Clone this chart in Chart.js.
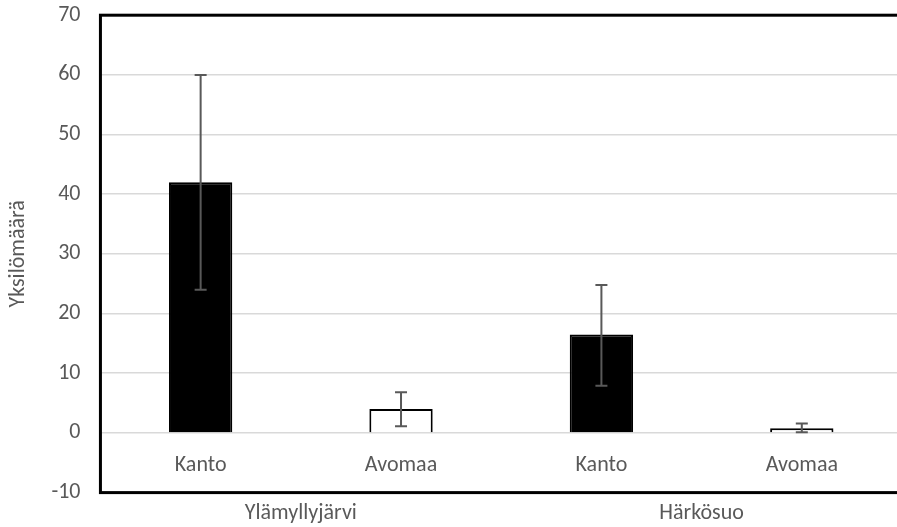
<!DOCTYPE html>
<html>
<head>
<meta charset="utf-8">
<script src="https://cdn.jsdelivr.net/npm/chart.js@4.4.1/dist/chart.umd.min.js"></script>
<style>
  html, body { margin: 0; padding: 0; background: #fff; overflow: hidden; }
  #wrap { width: 906px; height: 545px; margin-top: -18px; }
</style>
</head>
<body>
<div id="wrap"><canvas id="chart"></canvas></div>
<script>
const categories = ['Kanto', 'Avomaa', 'Kanto', 'Avomaa'];
const groups = ['Ylämyllyjärvi', 'Härkösuo'];
const counts = [42, 4, 16.5, 0.8];
const errLow = [24, 1.1, 7.9, 0.1];
const errHigh = [60, 6.8, 24.8, 1.6];
const barFills = ['#000000', '#ffffff', '#000000', '#ffffff'];

const textGray = '#595959';
const font = { family: 'Carlito, Calibri, Lato, sans-serif', size: 22 };

// whiskers for each bar
const errorBars = {
  id: 'errorBars',
  afterDatasetsDraw(chart) {
    const { ctx, scales: { y } } = chart;
    const meta = chart.getDatasetMeta(0);
    ctx.save();
    ctx.strokeStyle = textGray;
    ctx.lineWidth = 2;
    meta.data.forEach((bar, i) => {
      const x = bar.x;
      const top = y.getPixelForValue(errHigh[i]);
      const bot = y.getPixelForValue(errLow[i]);
      ctx.beginPath();
      ctx.moveTo(x, top); ctx.lineTo(x, bot);
      ctx.moveTo(x - 6, top); ctx.lineTo(x + 6, top);
      ctx.moveTo(x - 6, bot); ctx.lineTo(x + 6, bot);
      ctx.stroke();
    });
    ctx.restore();
  }
};

// heavy frame round the plot area
const frame = {
  id: 'frame',
  afterDraw(chart) {
    const { ctx, chartArea: a } = chart;
    ctx.save();
    ctx.strokeStyle = '#000';
    ctx.lineWidth = 3;
    ctx.strokeRect(a.left, a.top, a.right - a.left, a.bottom - a.top);
    ctx.restore();
  }
};

new Chart(document.getElementById('chart'), {
  type: 'bar',
  data: {
    labels: categories,
    datasets: [{
      data: counts,
      backgroundColor: barFills,
      borderColor: '#000',
      borderWidth: 2,
      barPercentage: 0.316,
      categoryPercentage: 1
    }]
  },
  options: {
    responsive: true,
    maintainAspectRatio: false,
    animation: false,
    layout: { padding: { top: 0, right: 4, left: 5, bottom: -8 } },
    plugins: { legend: { display: false }, tooltip: { enabled: false } },
    scales: {
      x: {
        position: { y: 0 },
        grid: { display: false },
        border: { display: false },
        ticks: { color: textGray, font, padding: 11 }
      },
      x2: {
        type: 'category',
        labels: groups,
        position: 'bottom',
        grid: { display: false, drawTicks: false },
        border: { display: false },
        ticks: { color: textGray, font, padding: 8 }
      },
      y: {
        min: -10,
        max: 70,
        ticks: { stepSize: 10, color: textGray, font, padding: 20 },
        grid: { color: '#d9d9d9', lineWidth: 1.5, drawTicks: false },
        border: { display: false },
        title: { display: true, text: 'Yksilömäärä', color: textGray, font, padding: 0 }
      }
    }
  },
  plugins: [errorBars, frame]
});
</script>
</body>
</html>
